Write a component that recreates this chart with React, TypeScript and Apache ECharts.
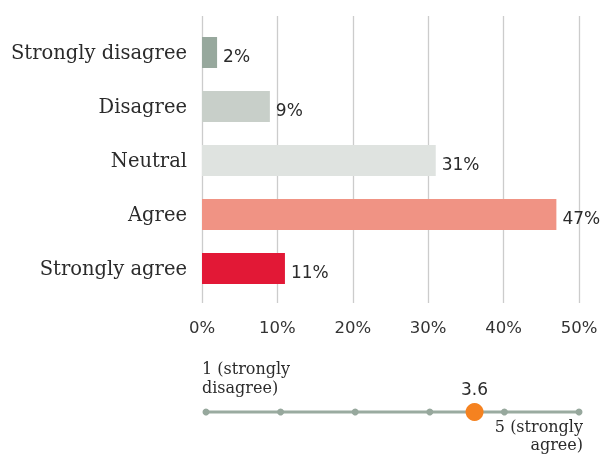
import React, { useEffect, useRef } from "react";
import * as echarts from "echarts";

const categories = ["Strongly disagree", "Disagree", "Neutral", "Agree", "Strongly agree"];
const values = [2, 9, 31, 47, 11];
const barColors = ["#97a89d", "#c8cfc9", "#dfe3e0", "#f09384", "#e21836"];
const scalePoints = [0, 1, 2, 3, 4, 5];
const scaleEndLabels = ["1 (strongly\ndisagree)", "5 (strongly\nagree)"];
const meanScore = 3.6;
const meanPosition = 3.6;

const SANS = "'DejaVu Sans', sans-serif";
const SERIF = "'DejaVu Serif', serif";

export default function App() {
  const ref = useRef<HTMLDivElement>(null);
  useEffect(() => {
    if (!ref.current) return;
    const chart = echarts.init(ref.current, undefined, { renderer: "svg" });
    chart.setOption({
      animation: false,
      grid: [
        { left: 202, right: 24, top: 16, height: 287 },
        { left: 202, right: 24, top: 25.5, height: 270 },
        { left: 206, right: 24, top: 402, height: 20 },
      ],
      xAxis: [
        {
          gridIndex: 0, type: "value", min: 0, max: 50, interval: 10,
          axisLine: { show: false }, axisTick: { show: false },
          splitLine: { show: true, lineStyle: { color: "#cccccc", width: 1.3 } },
          axisLabel: { formatter: "{value}%", fontFamily: SANS, fontSize: 16.5, color: "#333", margin: 16 },
        },
        { gridIndex: 1, type: "value", min: 0, max: 50, show: false },
        { gridIndex: 2, type: "value", min: 0, max: 5, show: false },
      ],
      yAxis: [
        { gridIndex: 0, type: "value", show: false },
        {
          gridIndex: 1, type: "category", data: categories, inverse: true,
          axisLine: { show: false }, axisTick: { show: false }, splitLine: { show: false },
          axisLabel: { fontFamily: SERIF, fontSize: 19.5, color: "#2b2b2b", margin: 15 },
        },
        { gridIndex: 2, type: "value", min: -1, max: 1, show: false },
      ],
      series: [
        {
          type: "bar", xAxisIndex: 1, yAxisIndex: 1, barWidth: 31,
          data: values.map((v, i) => ({ value: v, itemStyle: { color: barColors[i] } })),
          label: {
            show: true, position: "right", distance: 6, offset: [0, 3],
            formatter: "{c}%", fontFamily: SANS, fontSize: 17, color: "#2b2b2b",
          },
        },
        {
          type: "line", xAxisIndex: 2, yAxisIndex: 2,
          data: scalePoints.map((p) => [p, 0]),
          symbol: "circle", symbolSize: 7,
          lineStyle: { color: "#9aaba0", width: 3 },
          itemStyle: { color: "#97a89d", opacity: 1 },
          label: { show: false },
          z: 2,
        },
        {
          type: "scatter", xAxisIndex: 2, yAxisIndex: 2,
          data: [
            {
              value: [scalePoints[0], 0],
              label: {
                show: true, position: "top", align: "left", offset: [-4, -10],
                formatter: scaleEndLabels[0], fontFamily: SERIF, fontSize: 16, lineHeight: 19, color: "#2b2b2b",
              },
            },
            {
              value: [scalePoints[scalePoints.length - 1], 0],
              label: {
                show: true, position: "bottom", align: "right", offset: [4, 0],
                formatter: scaleEndLabels[1], fontFamily: SERIF, fontSize: 16, lineHeight: 18, color: "#2b2b2b",
              },
            },
          ],
          symbolSize: 0.1,
          itemStyle: { color: "rgba(0,0,0,0)", opacity: 1 },
          z: 3,
        },
        {
          type: "scatter", xAxisIndex: 2, yAxisIndex: 2,
          data: [[meanPosition, 0]],
          symbolSize: 18,
          itemStyle: { color: "#f58220", opacity: 1 },
          label: {
            show: true, position: "top", distance: 6, formatter: String(meanScore),
            fontFamily: SANS, fontSize: 17, color: "#2b2b2b",
          },
          z: 4,
        },
      ],
    });
    return () => chart.dispose();
  }, []);
  return <div ref={ref} style={{ position: "fixed", left: 0, top: 0, width: 603, height: 456 }} />;
}
